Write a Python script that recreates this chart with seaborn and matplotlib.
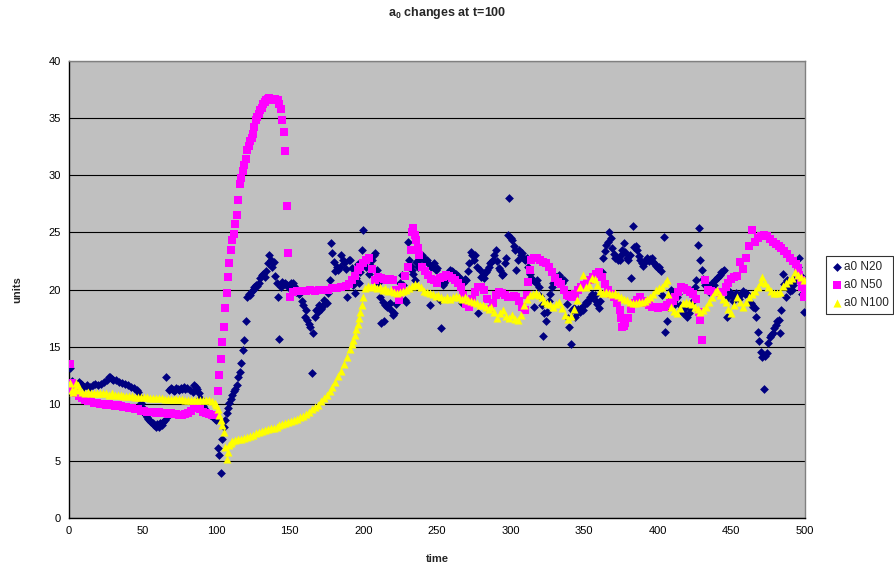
import matplotlib
matplotlib.use("Agg")
import matplotlib.pyplot as plt
import seaborn as sns
import pandas as pd

# ---------------- data (time, units) ----------------
n20_points = [
    (1, 13.1), (2, 12.0), (3, 11.8), (4, 11.6), (5, 11.5), (6, 11.7), (7, 11.9), (8, 11.7), (9, 11.6), (10, 11.5),
    (12, 11.6), (14, 11.5), (16, 11.6), (18, 11.7), (20, 11.6), (22, 11.7), (24, 11.9), (26, 12.1), (27, 12.3),
    (28, 12.3), (29, 12.2), (30, 12.1), (32, 12.1), (34, 11.9), (36, 11.8), (38, 11.7), (40, 11.6), (42, 11.5),
    (44, 11.4), (46, 11.2), (47, 11.0), (48, 10.6), (49, 10.1), (50, 9.6), (51, 9.2), (52, 9.0), (53, 8.8),
    (54, 8.7), (55, 8.5), (56, 8.4), (57, 8.3), (58, 8.1), (59, 8.0), (60, 8.2), (61, 8.0), (62, 8.3), (63, 8.1),
    (64, 8.4), (65, 8.6), (66, 12.3), (67, 8.9), (68, 11.2), (69, 11.4), (70, 11.3), (71, 11.1), (72, 11.2),
    (73, 11.4), (74, 11.3), (75, 11.2), (76, 11.4), (77, 11.3), (78, 11.5), (79, 11.3), (80, 11.4), (82, 11.2),
    (84, 11.0), (85, 11.6), (86, 11.5), (87, 11.3), (88, 10.9), (89, 10.5), (90, 10.1), (91, 9.8), (92, 9.6),
    (93, 9.4), (94, 9.2), (95, 9.1), (96, 9.0), (97, 8.9), (98, 8.8), (99, 8.7), (100, 8.6),
    (101, 6.1), (102, 5.5), (103, 3.9), (104, 6.9), (105, 8.0), (106, 8.6), (107, 9.2), (108, 9.6), (109, 10.1),
    (110, 10.4), (111, 10.8), (112, 11.1), (113, 11.3), (114, 11.6), (115, 12.3), (116, 12.8), (117, 13.6),
    (118, 14.7), (119, 15.6), (120, 17.2), (121, 19.3), (122, 19.6), (123, 19.5), (124, 19.9), (125, 20.0),
    (126, 20.2), (127, 20.4), (128, 20.3), (129, 20.6), (130, 21.0), (131, 21.3), (132, 21.4), (133, 21.1),
    (134, 21.6), (135, 22.3), (136, 23.0), (137, 22.6), (138, 22.0), (139, 22.4), (140, 21.2), (141, 20.6),
    (142, 19.3), (143, 15.7), (144, 20.2), (145, 20.7), (146, 20.5), (147, 20.6), (148, 20.4), (149, 20.2),
    (150, 20.4), (151, 20.6), (152, 20.6), (153, 20.3), (154, 19.8), (155, 20.0), (156, 19.6), (157, 19.7),
    (158, 19.0), (159, 18.6), (160, 17.6), (161, 18.2), (162, 17.3), (163, 17.0), (164, 16.7), (165, 12.7),
    (166, 16.2), (167, 17.6), (168, 18.2), (169, 18.0), (170, 18.6), (171, 18.3), (172, 18.5), (173, 19.1),
    (174, 18.8), (175, 18.8), (176, 19.7), (177, 20.8), (178, 24.1), (179, 23.2), (180, 22.4), (181, 21.6),
    (182, 22.0), (183, 21.7), (184, 22.0), (185, 23.0), (186, 22.6), (187, 22.3), (188, 21.8), (189, 19.3),
    (190, 22.6), (191, 22.6), (192, 21.9), (193, 20.4), (194, 19.7), (195, 21.0), (196, 22.2), (197, 20.6),
    (198, 21.5), (199, 23.5), (200, 25.2), (201, 22.5), (202, 22.0), (203, 22.8), (204, 21.4), (205, 22.1),
    (206, 22.6), (207, 23.0), (208, 23.2), (209, 21.7), (210, 20.6), (211, 19.3), (212, 17.1), (213, 18.9),
    (214, 17.2), (215, 18.6), (216, 18.5), (217, 18.6), (218, 18.8), (219, 18.2), (220, 17.8), (221, 17.9),
    (222, 18.7), (223, 19.5), (224, 19.8), (225, 20.6), (226, 21.3), (227, 20.4), (228, 19.1), (229, 18.9),
    (230, 24.2), (231, 22.6), (232, 22.1), (233, 21.7), (234, 21.4), (235, 20.8), (236, 22.4), (237, 22.0),
    (238, 22.6), (239, 22.9), (240, 23.0), (241, 22.8), (242, 22.5), (243, 22.6), (244, 22.3), (245, 18.6),
    (246, 22.0), (247, 22.0), (248, 22.3), (249, 21.7), (250, 21.9), (251, 20.7), (252, 19.1), (253, 16.6),
    (254, 20.4), (255, 20.6), (256, 20.8), (257, 21.2), (258, 21.5), (259, 21.7), (260, 21.6), (261, 21.5),
    (262, 21.3), (263, 21.4), (264, 21.2), (265, 21.0), (266, 20.9), (267, 18.8), (268, 20.6), (269, 20.9),
    (270, 20.8), (271, 21.6), (272, 22.3), (273, 23.3), (274, 23.0), (275, 22.6), (276, 23.0), (277, 22.0),
    (278, 17.9), (279, 21.7), (280, 21.1), (281, 21.3), (282, 21.0), (283, 21.5), (284, 21.7), (285, 22.0),
    (286, 22.3), (287, 22.4), (288, 22.6), (289, 23.0), (290, 23.5), (291, 22.5), (292, 21.9), (293, 21.7),
    (294, 21.3), (295, 21.4), (296, 22.3), (297, 22.8), (298, 24.8), (299, 28.0), (300, 24.5), (301, 24.3),
    (302, 23.8), (303, 23.5), (304, 21.7), (305, 22.6), (306, 23.5), (307, 23.0), (308, 23.2), (309, 22.7),
    (310, 22.6), (311, 22.8), (312, 22.0), (313, 21.4), (314, 21.0), (315, 20.8), (316, 18.5), (317, 20.6),
    (318, 20.8), (319, 20.2), (320, 19.4), (321, 18.6), (322, 15.9), (323, 17.9), (324, 17.2), (325, 18.0),
    (326, 19.0), (327, 19.6), (328, 20.2), (329, 20.6), (330, 20.9), (331, 21.1), (332, 21.0), (333, 21.3),
    (334, 21.0), (335, 20.6), (336, 20.8), (337, 19.8), (338, 18.7), (339, 17.5), (340, 16.7), (341, 15.2),
    (342, 18.2), (343, 18.4), (344, 17.6), (345, 17.9), (346, 18.3), (347, 18.0), (348, 18.4), (349, 18.2),
    (350, 18.6), (351, 18.9), (352, 18.8), (353, 19.1), (354, 19.3), (355, 19.6), (356, 19.4), (357, 19.5),
    (358, 19.0), (359, 18.7), (360, 18.4), (361, 19.0), (362, 21.5), (363, 22.8), (364, 23.4), (365, 23.9),
    (366, 24.2), (367, 25.0), (368, 24.5), (369, 23.6), (370, 23.1), (371, 22.8), (372, 22.8), (373, 22.6),
    (374, 22.6), (375, 23.0), (376, 23.5), (377, 24.1), (378, 23.3), (379, 22.8), (380, 22.6), (381, 23.0),
    (382, 21.0), (383, 25.6), (384, 23.7), (385, 23.8), (386, 23.5), (387, 22.9), (388, 22.6), (389, 22.3),
    (390, 22.1), (391, 22.4), (392, 22.6), (393, 22.8), (394, 22.5), (395, 22.7), (396, 22.8), (397, 22.4),
    (398, 22.2), (399, 22.1), (400, 21.9), (401, 22.0), (402, 21.6), (403, 19.5), (404, 24.6), (405, 16.3),
    (406, 17.2), (407, 18.5), (408, 19.4), (409, 20.0), (410, 19.8), (411, 19.1), (412, 18.7), (413, 19.3),
    (414, 19.6), (415, 18.6), (416, 18.2), (417, 17.9), (418, 18.3), (419, 17.8), (420, 17.6), (421, 17.9),
    (422, 18.4), (423, 18.9), (424, 19.5), (425, 20.2), (426, 20.8), (427, 23.9), (428, 25.4), (429, 22.6),
    (430, 21.7), (431, 20.9), (432, 20.4), (433, 20.6), (434, 20.1), (435, 19.8), (436, 20.3), (437, 20.6),
    (438, 20.4), (439, 20.8), (440, 21.0), (441, 21.1), (442, 21.3), (443, 21.5), (444, 21.6), (445, 21.7),
    (446, 20.3), (447, 17.6), (448, 19.3), (449, 19.8), (450, 19.5), (451, 19.0), (452, 19.4), (453, 19.7),
    (454, 19.5), (455, 19.2), (456, 19.5), (457, 19.7), (458, 19.9), (459, 19.6), (460, 19.7), (461, 19.5),
    (462, 19.0), (463, 18.8), (464, 18.6), (465, 18.5), (466, 18.4), (467, 17.6), (468, 16.3), (469, 15.5),
    (470, 14.5), (471, 14.1), (472, 11.3), (473, 14.2), (474, 14.4), (475, 15.3), (476, 15.8), (477, 16.0),
    (478, 16.2), (479, 16.6), (480, 16.9), (481, 17.2), (482, 17.3), (483, 16.2), (484, 18.2), (485, 21.4),
    (486, 20.5), (487, 19.3), (488, 20.8), (489, 20.2), (490, 19.9), (491, 20.0), (492, 20.4), (493, 20.8),
    (494, 21.3), (495, 22.0), (496, 22.8), (497, 21.2), (498, 19.6), (499, 18.0),
]

n50_points = [
    (1, 13.5), (2, 11.8), (3, 11.2), (5, 10.9), (7, 10.7), (9, 10.5), (11, 10.3), (13, 10.2), (15, 10.2),
    (17, 10.1), (19, 10.1), (21, 10.0), (23, 10.0), (25, 9.9), (27, 10.0), (29, 9.9), (31, 9.8), (33, 9.9),
    (35, 9.8), (37, 9.7), (39, 9.7), (41, 9.6), (43, 9.6), (45, 9.5), (47, 9.5), (49, 9.4), (51, 9.4),
    (53, 9.3), (55, 9.3), (57, 9.3), (59, 9.2), (61, 9.3), (63, 9.2), (65, 9.2), (67, 9.1), (69, 9.2),
    (71, 9.1), (73, 9.1), (75, 9.0), (77, 9.0), (79, 9.1), (81, 9.2), (83, 9.4), (85, 9.6), (87, 9.7),
    (89, 9.5), (91, 9.3), (93, 9.2), (95, 9.1), (97, 9.0), (99, 9.0), (100, 9.0),
    (101, 11.1), (102, 12.5), (103, 13.9), (104, 15.4), (105, 16.7), (106, 18.4), (107, 19.7), (108, 21.1),
    (109, 22.3), (110, 23.5), (111, 24.3), (112, 24.9), (113, 25.7), (114, 26.5), (115, 27.8), (116, 29.2),
    (117, 29.8), (118, 30.4), (119, 30.9), (120, 31.4), (121, 32.2), (122, 32.6), (123, 33.0), (124, 33.3),
    (125, 33.6), (126, 34.2), (127, 34.8), (128, 35.1), (129, 35.4), (130, 35.7), (131, 35.9), (132, 36.2),
    (133, 36.4), (134, 36.6), (135, 36.7), (136, 36.8), (137, 36.7), (138, 36.6), (139, 36.6), (140, 36.7),
    (141, 36.6), (142, 36.6), (143, 36.2), (144, 35.8), (145, 34.8), (146, 33.8), (147, 32.1), (148, 27.3),
    (149, 23.2), (150, 19.3),
    (152, 19.8), (155, 19.9), (158, 19.9), (161, 19.9), (164, 20.0), (167, 19.9), (170, 20.0), (173, 20.0),
    (176, 20.0), (179, 20.1), (182, 20.1), (185, 20.2), (188, 20.3), (190, 20.5), (192, 20.8), (194, 21.2),
    (196, 21.7), (198, 22.0), (200, 22.3), (202, 22.6), (204, 22.8), (206, 21.8), (208, 20.8), (210, 21.1),
    (212, 21.0), (214, 20.9), (216, 20.8), (218, 20.9), (220, 20.8), (222, 20.0), (224, 19.1), (226, 20.2),
    (228, 21.2), (230, 22.0), (232, 23.5), (233, 25.0), (234, 25.4), (235, 24.8), (236, 24.3), (237, 23.6),
    (238, 23.0), (240, 22.0), (242, 21.6), (244, 21.3), (246, 20.9), (248, 20.8), (250, 20.6), (252, 21.0),
    (254, 21.1), (256, 21.3), (258, 21.2), (260, 21.0), (262, 20.8), (264, 20.6), (266, 20.2), (268, 19.5),
    (270, 18.7), (272, 18.5), (274, 19.2), (276, 19.8), (278, 20.2), (280, 20.2), (282, 20.0), (284, 19.2),
    (286, 18.3), (288, 18.8), (290, 19.5), (292, 19.8), (294, 19.7), (296, 19.5), (298, 19.3), (300, 19.3),
    (302, 19.4), (304, 19.3), (306, 19.0), (308, 18.5), (310, 18.2), (311, 19.5), (312, 20.7), (313, 21.7),
    (314, 22.6), (316, 22.8), (318, 22.8), (320, 22.6), (322, 22.4), (324, 22.3), (326, 22.0), (328, 21.5),
    (330, 21.0), (332, 20.7), (334, 20.5), (336, 20.0), (338, 19.5), (340, 19.4), (342, 19.3), (344, 19.6),
    (346, 20.0), (348, 20.2), (350, 20.4), (352, 20.6), (354, 20.8), (356, 21.1), (358, 21.4), (360, 21.5),
    (362, 21.1), (364, 20.5), (366, 20.0), (368, 19.6), (370, 19.3), (372, 18.8), (374, 18.2), (375, 17.5),
    (376, 16.7), (377, 16.8), (378, 17.1), (380, 17.5), (382, 18.3), (384, 18.8), (386, 19.1), (388, 19.3),
    (390, 19.0), (392, 18.8), (394, 18.6), (396, 18.5), (398, 18.5), (400, 18.4), (402, 18.5), (404, 18.5),
    (406, 18.6), (408, 18.8), (410, 19.0), (412, 19.3), (414, 19.8), (416, 20.2), (418, 20.1), (420, 20.0),
    (422, 19.8), (424, 19.6), (426, 19.2), (428, 18.0), (429, 17.3), (430, 15.6), (432, 20.8), (434, 20.0),
    (436, 19.9), (438, 19.8), (440, 19.8), (442, 19.7), (444, 19.8), (446, 20.2), (448, 20.6), (450, 20.9),
    (452, 21.1), (454, 21.2), (456, 22.4), (458, 21.8), (460, 22.8), (462, 23.8), (464, 25.2), (466, 24.2),
    (468, 24.5), (470, 24.7), (472, 24.8), (474, 24.7), (476, 24.4), (478, 24.2), (480, 24.0), (482, 23.8),
    (484, 23.6), (486, 23.4), (488, 23.1), (490, 22.8), (492, 22.5), (494, 22.2), (495, 21.9), (496, 21.3),
    (497, 20.8), (498, 20.2), (499, 19.3), (500, 20.0),
]

n100_points = [
    (1, 11.8), (2, 11.2), (3, 11.0), (4, 11.3), (5, 11.8), (6, 11.6), (7, 11.2), (9, 11.0), (11, 10.9),
    (13, 11.0), (15, 10.9), (17, 10.9), (19, 10.9), (21, 10.9), (23, 10.9), (25, 10.9), (27, 10.8), (29, 10.9),
    (31, 10.8), (33, 10.8), (35, 10.8), (37, 10.7), (39, 10.7), (41, 10.7), (43, 10.7), (45, 10.6), (47, 10.6),
    (49, 10.6), (51, 10.6), (53, 10.6), (55, 10.5), (57, 10.5), (59, 10.5), (61, 10.5), (63, 10.5), (65, 10.4),
    (67, 10.4), (69, 10.4), (71, 10.4), (73, 10.4), (75, 10.4), (77, 10.4), (79, 10.3), (81, 10.3), (83, 10.3),
    (85, 10.3), (87, 10.3), (89, 10.3), (91, 10.3), (93, 10.3), (95, 10.3), (97, 10.2), (99, 10.1), (100, 9.9),
    (101, 9.5), (102, 9.0), (103, 8.6), (104, 8.1), (105, 7.5), (106, 6.2), (107, 5.2), (108, 5.8), (109, 6.4),
    (110, 6.6), (111, 6.7), (113, 6.8), (115, 6.9), (117, 6.9), (119, 7.0), (121, 7.1), (123, 7.2), (125, 7.3),
    (127, 7.4), (129, 7.5), (131, 7.6), (133, 7.7), (135, 7.8), (137, 7.9), (139, 7.9), (141, 8.0), (143, 8.1),
    (145, 8.2), (147, 8.3), (149, 8.4), (151, 8.5), (153, 8.6), (155, 8.7), (157, 8.8), (159, 8.9), (161, 9.1),
    (163, 9.3), (165, 9.5), (167, 9.7), (169, 9.9), (171, 10.2), (173, 10.5), (175, 10.8), (177, 11.1),
    (179, 11.5), (181, 11.9), (183, 12.4), (185, 12.9), (187, 13.5), (189, 14.1), (191, 14.8), (192, 15.2),
    (193, 15.6), (194, 16.0), (195, 16.5), (196, 17.0), (197, 17.5), (198, 18.0), (199, 18.6), (200, 19.3),
    (201, 20.1), (203, 20.3), (205, 20.2), (207, 20.3), (209, 20.1), (211, 20.2), (213, 20.0), (215, 20.1),
    (217, 19.9), (219, 20.0), (221, 19.8), (223, 19.7), (225, 19.8), (227, 19.9), (229, 20.0), (231, 20.1),
    (233, 20.3), (235, 20.5), (237, 20.4), (239, 20.2), (241, 19.9), (243, 19.8), (245, 19.7), (247, 19.6),
    (249, 19.4), (251, 19.5), (253, 19.3), (255, 19.2), (257, 19.3), (259, 19.2), (261, 19.3), (263, 19.4),
    (265, 19.3), (267, 19.2), (269, 19.3), (271, 19.1), (273, 19.0), (275, 18.9), (277, 18.8), (279, 18.6),
    (281, 18.6), (283, 18.5), (285, 18.3), (287, 18.5), (289, 18.0), (291, 17.5), (293, 17.9), (295, 18.2),
    (297, 17.7), (299, 17.5), (301, 17.8), (303, 17.4), (305, 17.3), (307, 17.8), (309, 18.6), (311, 19.2),
    (313, 19.5), (315, 19.6), (317, 19.7), (319, 19.5), (321, 19.3), (323, 19.0), (325, 18.8), (327, 18.7),
    (329, 18.5), (331, 18.7), (333, 18.9), (335, 18.4), (337, 17.8), (339, 17.4), (341, 17.7), (343, 18.3),
    (345, 19.1), (347, 20.2), (349, 21.3), (351, 20.2), (353, 20.4), (355, 21.0), (357, 20.9), (359, 20.4),
    (361, 19.9), (363, 19.7), (365, 19.8), (367, 19.7), (369, 19.6), (371, 19.7), (373, 19.5), (375, 19.3),
    (377, 19.2), (379, 19.1), (381, 18.9), (383, 18.8), (385, 18.8), (387, 18.9), (389, 18.9), (391, 19.0),
    (393, 19.2), (395, 19.3), (397, 19.6), (399, 20.0), (401, 20.1), (403, 20.2), (405, 20.6), (406, 20.8),
    (407, 19.6), (409, 18.5), (411, 18.1), (413, 17.9), (415, 18.4), (417, 18.8), (419, 18.9), (421, 18.8),
    (423, 18.7), (425, 18.5), (427, 18.3), (429, 18.0), (431, 18.2), (433, 18.5), (435, 18.9), (437, 19.3),
    (439, 19.8), (440, 20.0), (442, 19.5), (444, 19.2), (446, 18.9), (448, 18.3), (450, 17.9), (452, 18.6),
    (454, 19.3), (456, 18.9), (458, 18.5), (460, 18.9), (462, 19.3), (464, 19.6), (466, 19.9), (468, 20.2),
    (470, 20.7), (471, 21.1), (473, 20.6), (475, 20.2), (477, 19.9), (479, 19.7), (481, 19.7), (483, 19.8),
    (485, 20.3), (487, 20.6), (489, 20.8), (491, 21.0), (493, 21.5), (495, 21.3), (497, 21.1), (499, 20.8),
]

series_names = ["a0 N20", "a0 N50", "a0 N100"]
x_ticks = [0, 50, 100, 150, 200, 250, 300, 350, 400, 450, 500]
y_ticks = [0, 5, 10, 15, 20, 25, 30, 35, 40]

# ---------------- build long-form table ----------------
frames = []
for name, pts in zip(series_names, [n20_points, n50_points, n100_points]):
    df = pd.DataFrame(pts, columns=["time", "units"])
    df["series"] = name
    frames.append(df)
data = pd.concat(frames, ignore_index=True)

# ---------------- style ----------------
sns.set_theme(style="white")
plt.rcParams["font.family"] = ["Liberation Sans", "DejaVu Sans"]
plt.rcParams["mathtext.fontset"] = "custom"
plt.rcParams["mathtext.rm"] = "Liberation Sans"
plt.rcParams["mathtext.bf"] = "Liberation Sans:bold"

fig = plt.figure(figsize=(8.94, 5.69), dpi=100)
ax = fig.add_axes([69 / 894, 1 - 518 / 569, (805 - 69) / 894, (518 - 61) / 569])
ax.set_facecolor("#C0C0C0")

palette = {"a0 N20": "#000080", "a0 N50": "#FF00FF", "a0 N100": "#FFFF00"}
markers = {"a0 N20": "D", "a0 N50": "s", "a0 N100": "^"}
sizes = {"a0 N20": 20, "a0 N50": 26, "a0 N100": 34}

for name in series_names:
    sub = data[data["series"] == name]
    sns.scatterplot(data=sub, x="time", y="units", color=palette[name], marker=markers[name],
                    s=sizes[name], linewidth=0, ax=ax, label=name, zorder=3)

ax.set_xlim(0, 500)
ax.set_ylim(0, 40)
ax.set_xticks(x_ticks)
ax.set_yticks(y_ticks)
ax.tick_params(axis="both", direction="out", length=4, width=0.8, colors="black", labelsize=8, pad=2)
ax.yaxis.grid(True, color="black", linewidth=0.8, zorder=1)
ax.xaxis.grid(False)
ax.set_axisbelow(True)
for side in ["left", "bottom"]:
    ax.spines[side].set_color("black")
    ax.spines[side].set_linewidth(1.0)
for side in ["top", "right"]:
    ax.spines[side].set_color("#808080")
    ax.spines[side].set_linewidth(1.0)

ax.set_xlabel("time", fontsize=8, fontweight="bold", labelpad=13)
ax.set_ylabel("units", fontsize=8, fontweight="bold", labelpad=19)
fig.text(447 / 894, 1 - 13 / 569, r"$\mathbf{a_0}$ changes at t=100", ha="center", va="center",
         fontsize=9, fontweight="bold")

leg = ax.legend(loc="center left", bbox_to_anchor=(826 / 894, 1 - 285 / 569),
                bbox_transform=fig.transFigure, frameon=True, fancybox=False, fontsize=8.5,
                borderpad=0.4, handletextpad=0.1, labelspacing=0.5, handlelength=1.0,
                borderaxespad=0, markerscale=1.0)
leg.get_frame().set_edgecolor("black")
leg.get_frame().set_linewidth(0.8)
leg.get_frame().set_facecolor("white")

fig.savefig("out.png", dpi=100)
